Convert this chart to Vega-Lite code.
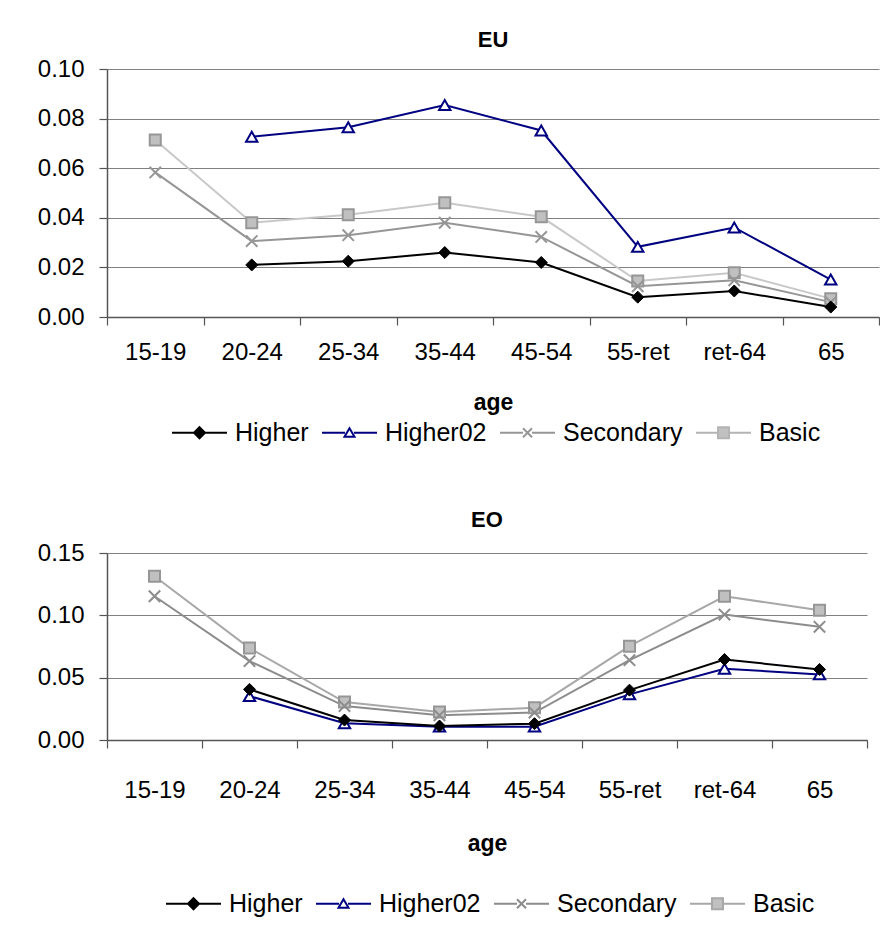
{
  "$schema": "https://vega.github.io/schema/vega-lite/v6.json",
  "padding": {"left": 37, "top": 29, "right": 0, "bottom": 0},
  "spacing": 63,
  "background": "white",
  "config": {
    "font": "Liberation Sans",
    "view": {"stroke": null},
    "axis": {
      "labelFont": "Liberation Sans", "labelFontSize": 24, "labelColor": "black",
      "titleFont": "Liberation Sans", "titleFontSize": 23, "titleFontWeight": "bold", "titleColor": "black",
      "domainColor": "#555555", "tickColor": "#555555", "gridColor": "#808080",
      "domainWidth": 1.5, "tickWidth": 1.2, "gridWidth": 1
    },
    "legend": {
      "labelFont": "Liberation Sans", "labelFontSize": 25, "labelColor": "black"
    },
    "title": {"font": "Liberation Sans", "fontSize": 22, "fontWeight": "bold", "color": "black", "anchor": "middle"}
  },
  "datasets": {
    "eu": [
      {"age": "20-24", "series": "Higher", "value": 0.021},
      {"age": "25-34", "series": "Higher", "value": 0.0225},
      {"age": "35-44", "series": "Higher", "value": 0.026},
      {"age": "45-54", "series": "Higher", "value": 0.022},
      {"age": "55-ret", "series": "Higher", "value": 0.008},
      {"age": "ret-64", "series": "Higher", "value": 0.0105},
      {"age": "65", "series": "Higher", "value": 0.004},
      {"age": "20-24", "series": "Higher02", "value": 0.0727},
      {"age": "25-34", "series": "Higher02", "value": 0.0765},
      {"age": "35-44", "series": "Higher02", "value": 0.0855},
      {"age": "45-54", "series": "Higher02", "value": 0.0752},
      {"age": "55-ret", "series": "Higher02", "value": 0.0283},
      {"age": "ret-64", "series": "Higher02", "value": 0.0361},
      {"age": "65", "series": "Higher02", "value": 0.0151},
      {"age": "15-19", "series": "Secondary", "value": 0.0583},
      {"age": "20-24", "series": "Secondary", "value": 0.0306},
      {"age": "25-34", "series": "Secondary", "value": 0.033},
      {"age": "35-44", "series": "Secondary", "value": 0.038},
      {"age": "45-54", "series": "Secondary", "value": 0.0323},
      {"age": "55-ret", "series": "Secondary", "value": 0.0124},
      {"age": "ret-64", "series": "Secondary", "value": 0.0148},
      {"age": "65", "series": "Secondary", "value": 0.006},
      {"age": "15-19", "series": "Basic", "value": 0.0714},
      {"age": "20-24", "series": "Basic", "value": 0.038},
      {"age": "25-34", "series": "Basic", "value": 0.0412},
      {"age": "35-44", "series": "Basic", "value": 0.0461},
      {"age": "45-54", "series": "Basic", "value": 0.0404},
      {"age": "55-ret", "series": "Basic", "value": 0.0145},
      {"age": "ret-64", "series": "Basic", "value": 0.0178},
      {"age": "65", "series": "Basic", "value": 0.0074}
    ],
    "eo": [
      {"age": "20-24", "series": "Higher", "value": 0.0406},
      {"age": "25-34", "series": "Higher", "value": 0.016},
      {"age": "35-44", "series": "Higher", "value": 0.0112},
      {"age": "45-54", "series": "Higher", "value": 0.0131},
      {"age": "55-ret", "series": "Higher", "value": 0.04},
      {"age": "ret-64", "series": "Higher", "value": 0.0646},
      {"age": "65", "series": "Higher", "value": 0.0566},
      {"age": "20-24", "series": "Higher02", "value": 0.0352},
      {"age": "25-34", "series": "Higher02", "value": 0.0134},
      {"age": "35-44", "series": "Higher02", "value": 0.0107},
      {"age": "45-54", "series": "Higher02", "value": 0.0107},
      {"age": "55-ret", "series": "Higher02", "value": 0.0366},
      {"age": "ret-64", "series": "Higher02", "value": 0.0572},
      {"age": "65", "series": "Higher02", "value": 0.0526},
      {"age": "15-19", "series": "Secondary", "value": 0.1153},
      {"age": "20-24", "series": "Secondary", "value": 0.0633},
      {"age": "25-34", "series": "Secondary", "value": 0.0272},
      {"age": "35-44", "series": "Secondary", "value": 0.0198},
      {"age": "45-54", "series": "Secondary", "value": 0.022},
      {"age": "55-ret", "series": "Secondary", "value": 0.064},
      {"age": "ret-64", "series": "Secondary", "value": 0.1006},
      {"age": "65", "series": "Secondary", "value": 0.0908},
      {"age": "15-19", "series": "Basic", "value": 0.1313},
      {"age": "20-24", "series": "Basic", "value": 0.0737},
      {"age": "25-34", "series": "Basic", "value": 0.0304},
      {"age": "35-44", "series": "Basic", "value": 0.0224},
      {"age": "45-54", "series": "Basic", "value": 0.0259},
      {"age": "55-ret", "series": "Basic", "value": 0.0753},
      {"age": "ret-64", "series": "Basic", "value": 0.1153},
      {"age": "65", "series": "Basic", "value": 0.104}
    ]
  },
  "resolve": {"scale": {"stroke": "independent", "fill": "independent", "shape": "independent"}, "legend": {"stroke": "independent", "fill": "independent", "shape": "independent"}},
  "vconcat": [
    {
      "title": {"text": "EU", "offset": 5},
      "width": 772, "height": 248,
      "data": {"name": "eu"},
      "encoding": {
        "x": {"field": "age", "type": "ordinal", "bandPosition": 0.5,
          "sort": ["15-19", "20-24", "25-34", "35-44", "45-54", "55-ret", "ret-64", "65"],
          "scale": {"type": "band", "paddingInner": 0, "paddingOuter": 0},
          "axis": {"title": "age", "labelAngle": 0, "tickBand": "extent", "tickSize": 8, "labelPadding": 15, "titlePadding": 27, "grid": false}},
        "y": {"field": "value", "type": "quantitative",
          "scale": {"domain": [0, 0.1], "nice": false},
          "axis": {"title": null, "values": [0, 0.02, 0.04, 0.06, 0.08, 0.1], "format": ".2f", "tickSize": 8, "labelPadding": 15, "grid": true}}
      },
      "layer": [
        {"transform": [{"filter": "datum.series == 'Basic'"}], "mark": {"type": "line", "strokeWidth": 2, "color": "#c8c8c8"}},
        {"transform": [{"filter": "datum.series == 'Secondary'"}], "mark": {"type": "line", "strokeWidth": 2, "color": "#969696"}},
        {"transform": [{"filter": "datum.series == 'Higher02'"}], "mark": {"type": "line", "strokeWidth": 2, "color": "#000080"}},
        {"transform": [{"filter": "datum.series == 'Higher'"}], "mark": {"type": "line", "strokeWidth": 2, "color": "#000000"}},
        {"transform": [{"filter": "datum.series == 'Basic'"}],
         "mark": {"type": "point", "shape": "square", "size": 121, "fill": "#c0c0c0", "stroke": "#969696", "strokeWidth": 2, "opacity": 1}},
        {"transform": [{"filter": "datum.series == 'Secondary'"}],
         "mark": {"type": "point", "shape": "M-1,-1L1,1M1,-1L-1,1", "size": 130, "fill": null, "stroke": "#969696", "strokeWidth": 2, "opacity": 1}},
        {"transform": [{"filter": "datum.series == 'Higher02'"}],
         "mark": {"type": "point", "shape": "triangle-up", "size": 130, "fill": "#ffffff", "stroke": "#000080", "strokeWidth": 2, "opacity": 1}},
        {"transform": [{"filter": "datum.series == 'Higher'"}],
         "mark": {"type": "point", "shape": "diamond", "size": 144, "filled": true, "fill": "#000000", "stroke": "#000000", "strokeWidth": 1, "opacity": 1}},
        {"transform": [{"filter": "datum.value < 0"}],
         "mark": {"type": "point", "size": 100, "strokeWidth": 2, "opacity": 1},
         "encoding": {
           "shape": {"field": "series", "type": "nominal",
             "scale": {"domain": ["Higher", "Higher02", "Secondary", "Basic"],
               "range": ["M-5.5,0H5.5M0,-1.1L1.1,0L0,1.1L-1.1,0Z", "M-5.5,0H-0.9M0.9,0H5.5M0,-0.9L1,0.8L-1,0.8Z", "M-5.5,0H-0.9M0.9,0H5.5M-0.9,-0.9L0.9,0.9M0.9,-0.9L-0.9,0.9", "M-5.5,0H-1.1M1.1,0H5.5M-1.1,-1.1H1.1V1.1H-1.1Z"]},
             "legend": {"title": null, "orient": "none", "legendX": 80, "legendY": 351, "direction": "horizontal", "symbolSize": 100, "symbolStrokeWidth": 2, "symbolOpacity": 1, "labelOffset": 23, "columnPadding": 9}},
           "stroke": {"field": "series", "type": "nominal",
             "scale": {"domain": ["Higher", "Higher02", "Secondary", "Basic"], "range": ["#000000", "#000080", "#969696", "#b4b4b4"]}},
           "fill": {"field": "series", "type": "nominal",
             "scale": {"domain": ["Higher", "Higher02", "Secondary", "Basic"], "range": ["#000000", "#ffffff", "#969696", "#c0c0c0"]}}
         }}
      ]
    },
    {
      "title": {"text": "EO", "offset": 9},
      "width": 760, "height": 187,
      "data": {"name": "eo"},
      "encoding": {
        "x": {"field": "age", "type": "ordinal", "bandPosition": 0.5,
          "sort": ["15-19", "20-24", "25-34", "35-44", "45-54", "55-ret", "ret-64", "65"],
          "scale": {"type": "band", "paddingInner": 0, "paddingOuter": 0},
          "axis": {"title": "age", "labelAngle": 0, "tickBand": "extent", "tickSize": 8, "labelPadding": 30, "titlePadding": 30, "grid": false}},
        "y": {"field": "value", "type": "quantitative",
          "scale": {"domain": [0, 0.15], "nice": false},
          "axis": {"title": null, "values": [0, 0.05, 0.1, 0.15], "format": ".2f", "tickSize": 8, "labelPadding": 15, "grid": true}}
      },
      "layer": [
        {"transform": [{"filter": "datum.series == 'Basic'"}], "mark": {"type": "line", "strokeWidth": 2, "color": "#a8a8a8"}},
        {"transform": [{"filter": "datum.series == 'Secondary'"}], "mark": {"type": "line", "strokeWidth": 2, "color": "#8c8c8c"}},
        {"transform": [{"filter": "datum.series == 'Higher02'"}], "mark": {"type": "line", "strokeWidth": 2, "color": "#000080"}},
        {"transform": [{"filter": "datum.series == 'Higher'"}], "mark": {"type": "line", "strokeWidth": 2, "color": "#000000"}},
        {"transform": [{"filter": "datum.series == 'Basic'"}],
         "mark": {"type": "point", "shape": "square", "size": 121, "fill": "#c0c0c0", "stroke": "#969696", "strokeWidth": 2, "opacity": 1}},
        {"transform": [{"filter": "datum.series == 'Secondary'"}],
         "mark": {"type": "point", "shape": "M-1,-1L1,1M1,-1L-1,1", "size": 130, "fill": null, "stroke": "#8c8c8c", "strokeWidth": 2, "opacity": 1}},
        {"transform": [{"filter": "datum.series == 'Higher02'"}],
         "mark": {"type": "point", "shape": "triangle-up", "size": 130, "fill": "#ffffff", "stroke": "#000080", "strokeWidth": 2, "opacity": 1}},
        {"transform": [{"filter": "datum.series == 'Higher'"}],
         "mark": {"type": "point", "shape": "diamond", "size": 144, "filled": true, "fill": "#000000", "stroke": "#000000", "strokeWidth": 1, "opacity": 1}},
        {"transform": [{"filter": "datum.value < 0"}],
         "mark": {"type": "point", "size": 100, "strokeWidth": 2, "opacity": 1},
         "encoding": {
           "shape": {"field": "series", "type": "nominal",
             "scale": {"domain": ["Higher", "Higher02", "Secondary", "Basic"],
               "range": ["M-5.5,0H5.5M0,-1.1L1.1,0L0,1.1L-1.1,0Z", "M-5.5,0H-0.9M0.9,0H5.5M0,-0.9L1,0.8L-1,0.8Z", "M-5.5,0H-0.9M0.9,0H5.5M-0.9,-0.9L0.9,0.9M0.9,-0.9L-0.9,0.9", "M-5.5,0H-1.1M1.1,0H5.5M-1.1,-1.1H1.1V1.1H-1.1Z"]},
             "legend": {"title": null, "orient": "none", "legendX": 74, "legendY": 338, "direction": "horizontal", "symbolSize": 100, "symbolStrokeWidth": 2, "symbolOpacity": 1, "labelOffset": 23, "columnPadding": 9}},
           "stroke": {"field": "series", "type": "nominal",
             "scale": {"domain": ["Higher", "Higher02", "Secondary", "Basic"], "range": ["#000000", "#000080", "#8c8c8c", "#a8a8a8"]}},
           "fill": {"field": "series", "type": "nominal",
             "scale": {"domain": ["Higher", "Higher02", "Secondary", "Basic"], "range": ["#000000", "#ffffff", "#8c8c8c", "#c0c0c0"]}}
         }}
      ]
    }
  ]
}
